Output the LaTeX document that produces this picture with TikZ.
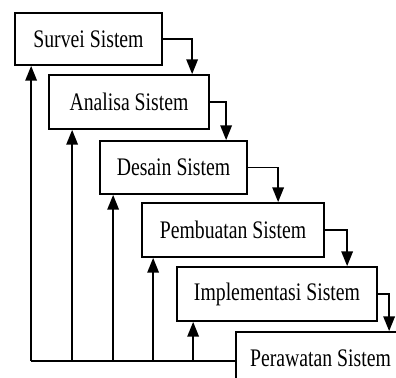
\documentclass[tikz,border=0pt]{standalone}
\usepackage{fontspec}
\setmainfont{Liberation Serif}
\usetikzlibrary{arrows.meta,calc}
\newcommand\vtext[1]{\scalebox{1}[1.28]{#1}}
\tikzset{
  stage/.style={draw, line width=1.3pt, inner sep=0pt, fill=white,
    font=\fontsize{14.8}{16}\selectfont},
  link/.style={line width=1.4pt},
  arr/.style={line width=1.4pt, -{Triangle[width=8.5pt,length=11pt]}},
}
\begin{document}
\begin{tikzpicture}[x=0.75pt,y=-0.75pt]
\useasboundingbox (0,0) rectangle (396,378);
\fill[white] (0,0) rectangle (396,378);
\clip (0,0) rectangle (396,378);
\node[stage, minimum width=147*0.75pt, minimum height=52*0.75pt] (b1) at (88.5,39) {\vtext{Survei Sistem}};
\node[stage, minimum width=160*0.75pt, minimum height=54*0.75pt] (b2) at (129,102) {\vtext{Analisa Sistem}};
\node[stage, minimum width=147*0.75pt, minimum height=53*0.75pt] (b3) at (173.5,167.5) {\vtext{Desain Sistem}};
\node[stage, minimum width=182*0.75pt, minimum height=54*0.75pt] (b4) at (233,230) {\vtext{Pembuatan Sistem}};
\node[stage, minimum width=200*0.75pt, minimum height=54*0.75pt] (b5) at (277,294) {\vtext{Implementasi Sistem}};
\node[stage, minimum width=169*0.75pt, minimum height=52*0.75pt] (b6) at (320.5,358) {\vtext{Perawatan Sistem}};
% forward arrows
\coordinate (t2) at ($(b2.north west)+(144,0)$);
\coordinate (t3) at ($(b3.north west)+(127,0)$);
\coordinate (t4) at ($(b4.north west)+(137,0)$);
\coordinate (t5) at ($(b5.north west)+(171,0)$);
\coordinate (t6) at ($(b6.north west)+(154,0)$);
\draw[arr] (b1.east) -| (t2);
\draw[arr] (b2.east) -| (t3);
\draw[arr] (b3.east) -| (t4);
\draw[arr] (b4.east) -| (t5);
\draw[arr] (b5.east) -| (t6);
% feedback
\coordinate (bl) at ($(b6.west)+(-204,3)$);
\coordinate (f1) at ($(b1.south west)+(17,0)$);
\coordinate (f2) at ($(b2.south west)+(24,0)$);
\coordinate (f3) at ($(b3.south west)+(14,0)$);
\coordinate (f4) at ($(b4.south west)+(12,0)$);
\coordinate (f5) at ($(b5.south west)+(17,0)$);
\draw[link] (bl) -- (bl -| b6.west);
\draw[arr] (f1 |- bl) -- (f1);
\draw[arr] (f2 |- bl) -- (f2);
\draw[arr] (f3 |- bl) -- (f3);
\draw[arr] (f4 |- bl) -- (f4);
\draw[arr] (f5 |- bl) -- (f5);
\end{tikzpicture}
\end{document}
